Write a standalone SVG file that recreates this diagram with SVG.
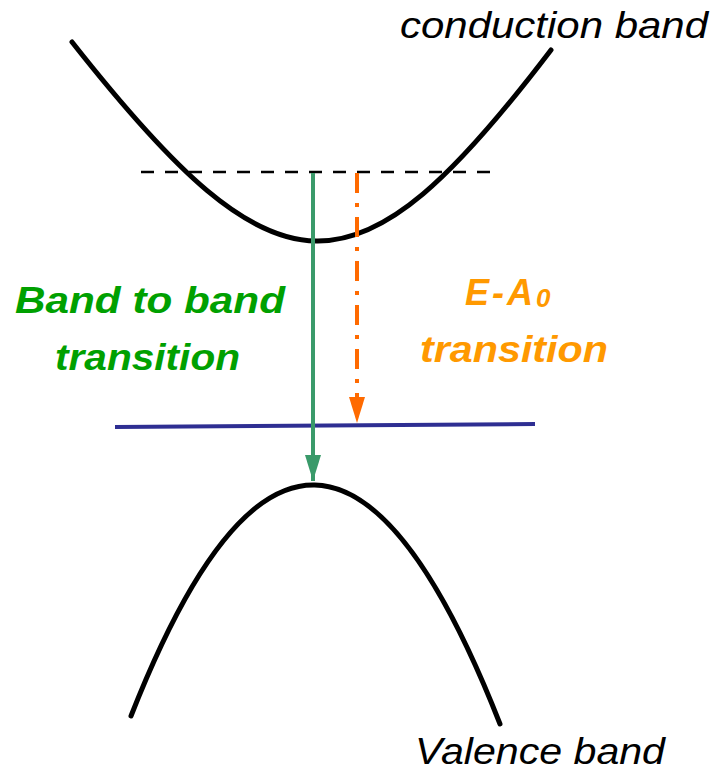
<svg xmlns="http://www.w3.org/2000/svg" width="716" height="776" viewBox="0 0 716 776">
<style>
.band{fill:none;stroke:#000;stroke-width:5;stroke-linecap:round}
.lbl{font-family:"Liberation Sans",Arial,sans-serif;font-style:italic;font-size:36px}
.bold{font-weight:bold}
</style>
<defs>
<marker id="ag" viewBox="0 0 26 16" refX="26" refY="8" markerWidth="26" markerHeight="16" markerUnits="userSpaceOnUse" orient="auto"><path d="M0,0L26,8L0,16z" fill="#3a9a6a"/></marker>
<marker id="ao" viewBox="0 0 26 16" refX="26" refY="8" markerWidth="26" markerHeight="16" markerUnits="userSpaceOnUse" orient="auto"><path d="M0,0L26,8L0,16z" fill="#ff6a00"/></marker>
</defs>
<rect width="716" height="776" fill="#fff"/>
<g id="conduction-band">
<path class="band" d="M72,42 C280,306 356,306 551,50"/>
<text class="lbl" x="400" y="38" textLength="308" lengthAdjust="spacingAndGlyphs">conduction band</text>
</g>
<g id="valence-band">
<path class="band" d="M131,716 Q314,250 500,724"/>
<text class="lbl" x="415" y="764" textLength="250" lengthAdjust="spacingAndGlyphs">Valence band</text>
</g>
<g id="fermi-level">
<line x1="141" y1="172" x2="500" y2="172" stroke="#000" stroke-width="2.5" stroke-dasharray="13,11"/>
</g>
<g id="acceptor-level">
<line x1="115" y1="427" x2="535" y2="424" stroke="#2e2e92" stroke-width="4"/>
</g>
<g id="connectors">
<line x1="313" y1="173" x2="313" y2="481" stroke="#3a9a6a" stroke-width="4" marker-end="url(#ag)"/>
<line x1="357" y1="173" x2="357" y2="423" stroke="#ff6a00" stroke-width="4" stroke-dasharray="20,10,4,10" marker-end="url(#ao)"/>
</g>
<g id="band-to-band-label">
<text class="lbl bold" x="15" y="313" fill="#00a000" textLength="270" lengthAdjust="spacingAndGlyphs">Band to band</text>
<text class="lbl bold" x="55" y="370" fill="#00a000" textLength="185" lengthAdjust="spacingAndGlyphs">transition</text>
</g>
<g id="ea0-label">
<text class="lbl bold" x="465" y="305" fill="#ff9900" font-size="38" letter-spacing="3">E-A<tspan font-size="26" dy="2">0</tspan></text>
<text class="lbl bold" x="420" y="362" fill="#ff9900" textLength="188" lengthAdjust="spacingAndGlyphs">transition</text>
</g>
</svg>
